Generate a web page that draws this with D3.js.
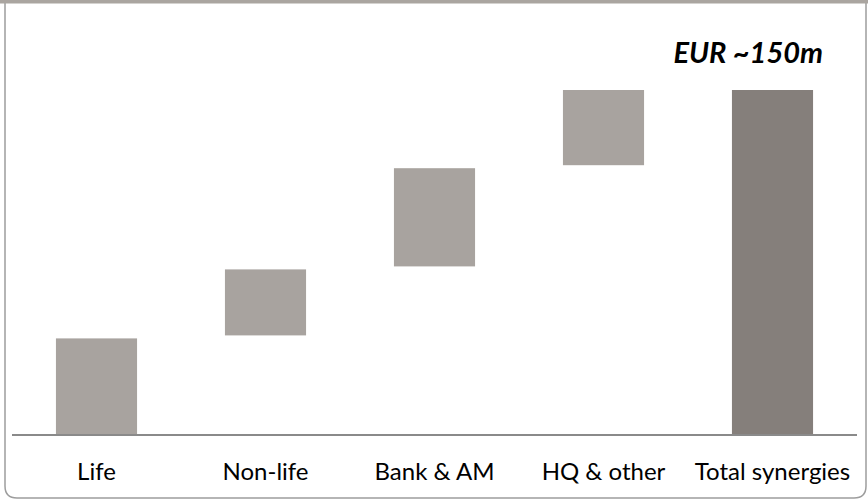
<!DOCTYPE html>
<html>
<head>
<meta charset="utf-8">
<script src="https://cdn.jsdelivr.net/npm/d3@7"></script>
<style>
  body { margin: 0; background: #fff; }
  svg { display: block; }
</style>
</head>
<body>
<svg id="chart" width="868" height="501"></svg>
<script>
// waterfall data (EUR m)
const categories = ["Life", "Non-life", "Bank & AM", "HQ & other", "Total synergies"];
const steps = [42, 30, 44, 34];
const total = 150;
const totalLabel = "EUR ~150m";

let width = 868;
let height = 501;

let svg = d3.select("#chart");

// frame: grey band on top, thin border with rounded bottom corners
let r = 12;
svg.append("path")
    .attr("d", `M5,0 L5,${498 - r} Q5,498 ${5 + r},498 L${866 - r},498 Q866,498 866,${498 - r} L866,0`)
    .attr("fill", "none")
    .attr("stroke", "#9d9d9d")
    .attr("stroke-width", 1.5);
svg.append("rect")
    .attr("x", 0).attr("y", 0)
    .attr("width", width).attr("height", 3.5)
    .attr("fill", "#aaa5a0");

let x = d3.scaleBand()
    .domain(categories)
    .range([12, 857])
    .paddingInner(0.52)
    .paddingOuter(0.26);

let y = d3.scaleLinear()
    .domain([0, total])
    .range([435, 90]);

// build the floating segments
let bars = [];
let run = 0;
steps.forEach((v, i) => {
    bars.push({cat: categories[i], start: run, end: run + v, total: false});
    run += v;
});
bars.push({cat: categories[4], start: 0, end: total, total: true});

let gap = 3;

svg.selectAll("rect.bar")
    .data(bars)
    .enter()
    .append("rect")
    .classed("bar", true)
    .attr("x", d => x(d.cat))
    .attr("width", x.bandwidth())
    .attr("y", d => y(d.end))
    .attr("height", d => (y(d.start) - y(d.end)) - (d.start > 0 ? gap : 0))
    .attr("fill", d => d.total ? "#857f7b" : "#a8a39f");

// category axis
let axis = svg.append("g")
    .attr("transform", "translate(0,435)")
    .call(d3.axisBottom(x).tickSize(0).tickPadding(28));
axis.select(".domain").remove();
axis.selectAll("text")
    .attr("font-family", "Lato, 'Open Sans', sans-serif")
    .attr("font-size", 24)
    .attr("fill", "#000");

// baseline
svg.append("line")
    .attr("x1", 12).attr("x2", 857)
    .attr("y1", 435).attr("y2", 435)
    .attr("stroke", "#8a8a8a")
    .attr("stroke-width", 2);

// total label
svg.append("text")
    .attr("x", x("Total synergies") + x.bandwidth() + 10)
    .attr("y", 63)
    .attr("text-anchor", "end")
    .attr("font-family", "Lato, 'Open Sans', sans-serif")
    .attr("font-size", 29)
    .attr("font-weight", "bold")
    .attr("font-style", "italic")
    .attr("fill", "#000")
    .text(totalLabel);
</script>
</body>
</html>
